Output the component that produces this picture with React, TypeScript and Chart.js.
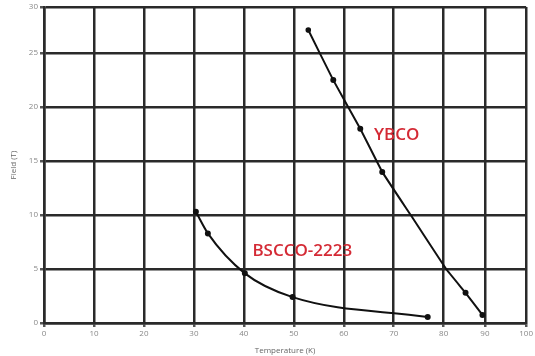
import React, { useEffect, useRef } from "react";
import { Chart, registerables, LinearScale } from "chart.js";

Chart.register(...registerables);

const ybcoT = [52.9, 57.9, 63.3, 67.7, 73.4, 80.6, 85.3, 89.4];
const ybcoField = [27.5, 22.5, 18.0, 14.0, 10.0, 5.0, 2.8, 0.75];
const ybcoDots = [1.8, 2, 2, 2, 0, 0, 2, 2];

const bsccoT = [30.4, 32.8, 40.2, 49.75, 76.8];
const bsccoField = [10.3, 8.3, 4.6, 2.4, 0.55];

const seriesLabels = ["YBCO", "BSCCO-2223"];
const labelT = [70.6, 51.7];
const labelField = [17.4, 6.67];

const xTitle = "Temperature (K)";
const yTitle = "Field (T)";

// piecewise knots (value fraction -> pixel fraction) to follow the reference's uneven grid
const xKnotsV = [0, 0.8, 1];
const xKnotsP = [0, 0.829, 1];
const yKnotsV = [0, 25 / 30, 1];
const yKnotsP = [0, 0.854, 1];

function warp(f: number, a: number[], b: number[]) {
  for (let i = 1; i < a.length; i++) {
    if (f <= a[i] || i === a.length - 1) {
      const t = (f - a[i - 1]) / (a[i] - a[i - 1]);
      return b[i - 1] + t * (b[i] - b[i - 1]);
    }
  }
  return f;
}

class WarpScale extends (LinearScale as any) {
  static id = "warp";
  getPixelForValue(value: number) {
    if (value === null || value === undefined) return NaN;
    const f = (value - this.min) / (this.max - this.min);
    const knots = this.isHorizontal() ? [xKnotsV, xKnotsP] : [yKnotsV, yKnotsP];
    return this.getPixelForDecimal(warp(f, knots[0], knots[1]));
  }
  getValueForPixel(pixel: number) {
    const d = this.getDecimalForPixel(pixel);
    const knots = this.isHorizontal() ? [xKnotsP, xKnotsV] : [yKnotsP, yKnotsV];
    return this.min + warp(d, knots[0], knots[1]) * (this.max - this.min);
  }
}
Chart.register(WarpScale as any);

const labelPlugin = {
  id: "seriesLabels",
  afterDatasetsDraw(chart: any) {
    const { ctx, scales } = chart;
    ctx.save();
    ctx.fillStyle = "#d42a35";
    ctx.font = "600 17px 'Open Sans', sans-serif";
    ctx.textAlign = "center";
    ctx.textBaseline = "middle";
    seriesLabels.forEach((t, i) => {
      ctx.fillText(t, scales.x.getPixelForValue(labelT[i]), scales.y.getPixelForValue(labelField[i]));
    });
    ctx.restore();
  },
};

const tickFont = { size: 8, family: "'Open Sans', sans-serif" };

export default function App() {
  const ref = useRef<HTMLCanvasElement>(null);
  useEffect(() => {
    document.body.style.margin = "0";
    const chart = new Chart(ref.current!, {
      type: "scatter",
      data: {
        datasets: [
          {
            label: seriesLabels[0],
            data: ybcoT.map((t, i) => ({ x: t, y: ybcoField[i] })),
            showLine: true,
            borderColor: "#111",
            backgroundColor: "#111",
            borderWidth: 2,
            pointRadius: ybcoDots,
            tension: 0.1,
          },
          {
            label: seriesLabels[1],
            data: bsccoT.map((t, i) => ({ x: t, y: bsccoField[i] })),
            showLine: true,
            borderColor: "#111",
            backgroundColor: "#111",
            borderWidth: 2,
            pointRadius: 2,
            cubicInterpolationMode: "monotone",
          },
        ],
      },
      options: {
        responsive: false,
        animation: false,
        layout: { padding: { top: 7, right: 6, left: 0, bottom: 0 } },
        plugins: { legend: { display: false }, tooltip: { enabled: false } },
        scales: {
          x: {
            type: "warp",
            min: 0,
            max: 100,
            ticks: { stepSize: 10, color: "#888", font: tickFont, padding: 2 },
            grid: { color: "#2a2a2a", lineWidth: 2.5, tickLength: 4, tickColor: "#555" },
            border: { color: "#2a2a2a", width: 2.5 },
            title: { display: true, text: xTitle, color: "#666", font: tickFont, padding: { top: 0, bottom: 0 } },
            afterFit(s: any) { s.height = 33; },
          },
          y: {
            type: "warp",
            min: 0,
            max: 30,
            ticks: { stepSize: 5, color: "#888", font: tickFont, padding: 2 },
            grid: { color: "#2a2a2a", lineWidth: 2.5, tickLength: 4, tickColor: "#555" },
            border: { color: "#2a2a2a", width: 2.5 },
            title: { display: true, text: yTitle, color: "#666", font: tickFont, padding: { top: 9, bottom: 4 } },
            afterFit(s: any) { s.width = 44; },
          },
        },
      },
      plugins: [labelPlugin],
    } as any);
    return () => chart.destroy();
  }, []);
  return <canvas ref={ref} width={535} height={356} style={{ display: "block" }} />;
}
